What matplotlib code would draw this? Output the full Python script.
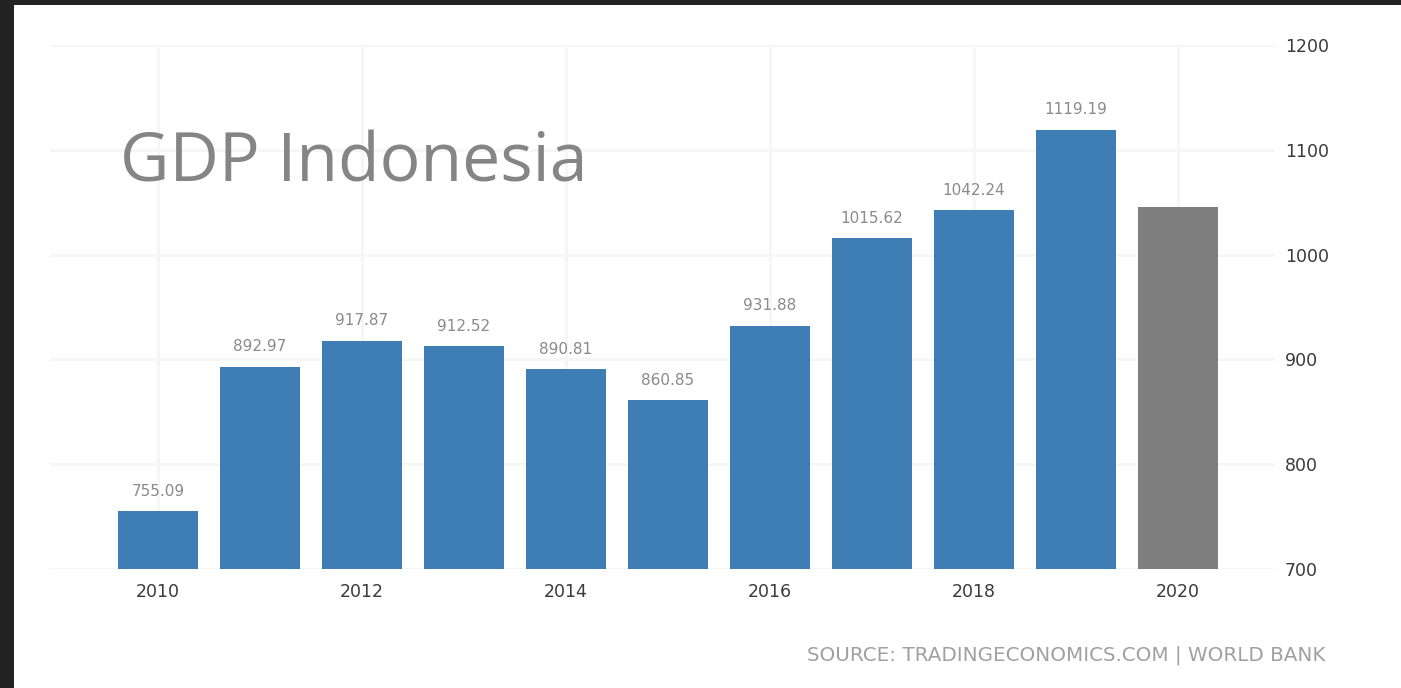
import matplotlib.pyplot as plt
from matplotlib.patches import Rectangle

years = [2010, 2011, 2012, 2013, 2014, 2015, 2016, 2017, 2018, 2019, 2020]
gdp = [755.09, 892.97, 917.87, 912.52, 890.81, 860.85, 931.88, 1015.62, 1042.24, 1119.19, 1045.0]
labels = ['755.09', '892.97', '917.87', '912.52', '890.81', '860.85', '931.88',
          '1015.62', '1042.24', '1119.19', '']
xticks = [2010, 2012, 2014, 2016, 2018, 2020]
yticks = [700, 800, 900, 1000, 1100, 1200]

W, H = 1401, 688
fig = plt.figure(figsize=(W / 100, H / 100), dpi=100, facecolor='white')
# dark frame on the top and left edges
fig.patches.append(Rectangle((0, 0), 14 / W, 1, transform=fig.transFigure,
                             facecolor='#222222', edgecolor='none'))
fig.patches.append(Rectangle((0, 1 - 5 / H), 1, 5 / H, transform=fig.transFigure,
                             facecolor='#222222', edgecolor='none'))

ax = fig.add_axes([50 / W, (H - 569) / H, 1225 / W, 524 / H])
ax.set_facecolor('none')

colors = ['#3f7db5'] * 10 + ['#7f7f7f']
bars = ax.bar(years, gdp, width=0.78, color=colors, zorder=3)
ax.set_ylim(700, 1200)
ax.set_xlim(2010 - 108 / 102, 2010 + 1117 / 102)

for b, lab in zip(bars, labels):
    ax.annotate(lab, (b.get_x() + b.get_width() / 2, b.get_height()),
                xytext=(0, 9), textcoords='offset points', ha='center', va='bottom',
                fontsize=11, color='#8a8a8a')

ax.set_xticks(xticks)
ax.set_xticklabels([str(y) for y in xticks])
ax.set_yticks(yticks)
ax.yaxis.tick_right()
ax.tick_params(axis='both', length=0, labelsize=12.5, labelcolor='#3a3a3a')
ax.tick_params(axis='x', pad=10)
ax.tick_params(axis='y', pad=7)
ax.grid(True, color='#f6f6f6', linewidth=2, zorder=0)
for s in ax.spines.values():
    s.set_visible(False)

fig.text(120 / W, 1 - 182 / H, 'GDP Indonesia', fontsize=49, color='#858585',
         family='Open Sans', va='baseline', ha='left')
fig.text(1325 / W, 1 - 655 / H, 'SOURCE: TRADINGECONOMICS.COM | WORLD BANK',
         fontsize=14.3, color='#a0a0a0', ha='right', va='center')

fig.savefig('out.png', dpi=100, facecolor=fig.get_facecolor())
